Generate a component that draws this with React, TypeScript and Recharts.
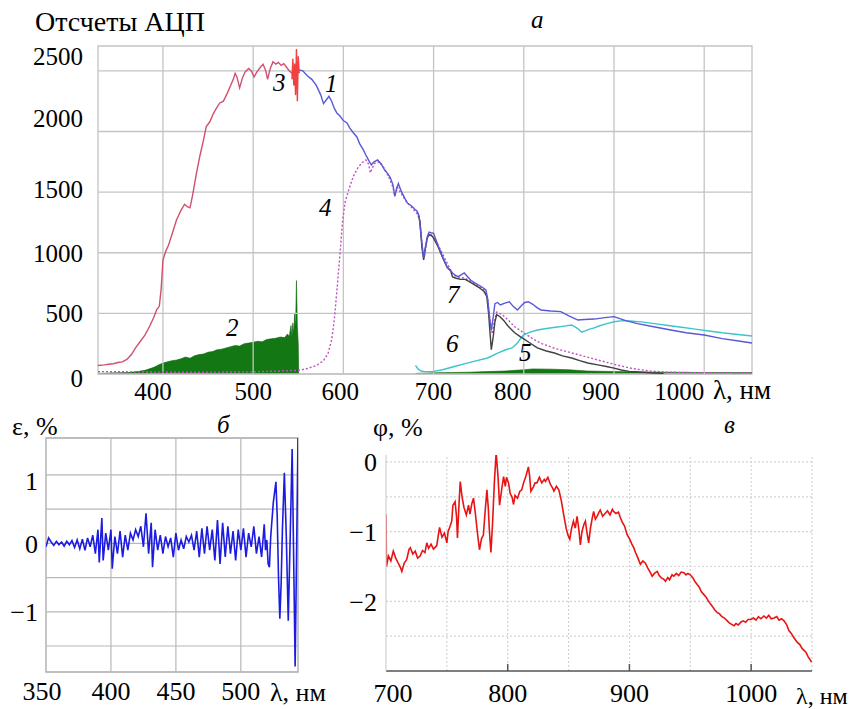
import {
  Area,
  ComposedChart,
  Line,
  LineChart,
  ReferenceArea,
  ReferenceLine,
  XAxis,
  YAxis,
} from "recharts";

type Pt = [number, number];

const SERIF = '"Liberation Serif", "Times New Roman", serif';

// panel a: ADC counts vs wavelength, nm
const topTicksX = [400, 500, 600, 700, 800, 900, 1000];
const topTicksY = [0, 500, 1000, 1500, 2000, 2500];

const curve3: Pt[] = [
  [328, 70], [335, 75], [340, 80], [345, 85], [350, 95], [355, 100], [360, 120], [365, 160],
  [370, 220], [375, 270], [380, 320], [385, 390], [390, 470], [393, 530], [396, 560], [398, 700],
  [400, 940], [403, 1010], [406, 1060], [410, 1150], [415, 1270], [420, 1350], [424, 1400],
  [427, 1380], [430, 1370], [433, 1480], [437, 1650], [441, 1800], [445, 1930], [448, 2040],
  [452, 2080], [456, 2150], [460, 2200], [463, 2235], [467, 2250], [471, 2310], [475, 2380],
  [478, 2430], [480, 2480], [482, 2450], [485, 2360], [488, 2440], [491, 2490], [495, 2520],
  [498, 2500], [501, 2450], [504, 2490], [508, 2530], [511, 2555], [514, 2500], [516, 2430],
  [519, 2520], [522, 2575], [525, 2555], [528, 2570], [531, 2545], [534, 2560], [537, 2530],
  [540, 2500], [543, 2480], [545, 2510],
];

const spike3: Pt[] = [
  [543, 2430], [544, 2600], [545, 2380], [546, 2560], [547, 2300], [548, 2680], [549, 2250],
  [550, 2620], [551, 2480],
];

const curve1: Pt[] = [
  [545, 2500], [550, 2510], [555, 2500], [560, 2460], [565, 2430], [570, 2380], [575, 2300],
  [578, 2230], [581, 2260], [584, 2290], [587, 2250], [590, 2190], [593, 2150], [596, 2130],
  [600, 2090], [604, 2070], [607, 2030], [611, 1990], [615, 1955], [618, 1900], [622, 1850],
  [626, 1790], [629, 1750], [631, 1725], [634, 1750], [638, 1765], [642, 1730], [646, 1680],
  [649, 1655], [652, 1620], [655, 1560], [657, 1465], [659, 1530], [661, 1570], [664, 1510],
  [668, 1450], [671, 1410], [675, 1390], [679, 1360], [682, 1340], [684, 1300], [686, 1150],
  [688, 1020], [689, 960], [691, 1050], [693, 1130], [695, 1170], [697, 1165], [700, 1160],
  [705, 1060], [710, 968], [715, 883], [718, 860], [721, 833], [724, 815], [727, 803],
  [730, 815], [734, 833], [738, 800], [741, 775], [746, 750], [750, 734], [754, 715],
  [758, 693], [760, 620], [762, 470], [764, 360], [766, 460], [768, 580], [771, 590],
  [774, 569], [779, 585], [784, 596], [788, 560], [793, 528], [797, 560], [801, 590],
  [805, 596], [810, 575], [815, 545], [819, 528], [830, 520], [841, 514], [850, 480],
  [860, 445], [867, 450], [878, 453], [890, 465], [900, 473], [913, 440], [926, 415],
  [944, 390], [963, 363], [980, 340], [1000, 322], [1020, 292], [1040, 270], [1053, 255],
];

const curve4: Pt[] = [
  [328, 20], [360, 18], [400, 15], [450, 15], [500, 18], [550, 30], [560, 45], [570, 70],
  [578, 110], [583, 170], [587, 280], [590, 450], [593, 700], [596, 970], [599, 1250],
  [602, 1420], [606, 1520], [611, 1630], [616, 1700], [621, 1745], [625, 1765], [628, 1730],
  [630, 1660], [632, 1700], [635, 1740], [640, 1750], [645, 1700], [650, 1630], [655, 1540],
  [657, 1470], [660, 1540], [664, 1490], [670, 1420], [676, 1370], [682, 1320], [685, 1260],
  [688, 1000], [690, 980], [693, 1120], [696, 1160], [700, 1125], [706, 1050], [712, 960],
  [718, 870], [722, 815], [728, 800], [735, 790], [742, 760], [750, 720], [757, 690],
  [760, 610], [763, 420], [765, 330], [767, 420], [770, 510], [776, 490], [782, 450],
  [790, 390], [800, 340], [810, 290], [820, 250], [835, 210], [850, 180], [865, 150],
  [880, 120], [900, 80], [920, 45], [940, 25], [960, 15], [1000, 10], [1053, 8],
];

const curve7: Pt[] = [
  [683, 1320], [685, 1250], [687, 1050], [689, 940], [691, 1040], [693, 1120], [695, 1150],
  [698, 1140], [700, 1120], [705, 1050], [710, 960], [715, 880], [719, 850], [721, 800],
  [725, 790], [730, 780], [735, 780], [741, 755], [750, 715], [756, 680], [759, 640],
  [761, 500], [763, 300], [764, 200], [766, 300], [768, 430], [770, 490], [774, 470],
  [778, 440], [782, 400], [786, 370], [790, 340], [796, 308], [800, 290], [806, 260],
  [815, 215], [825, 190], [834, 173], [843, 150], [853, 132], [862, 110], [871, 91],
  [882, 75], [893, 60], [900, 48], [908, 33], [917, 22], [927, 17], [940, 10], [955, 5],
];

const curve6: Pt[] = [
  [680, 70], [683, 40], [686, 25], [690, 20], [700, 22], [710, 35], [722, 60], [735, 85],
  [748, 110], [760, 132], [771, 173], [780, 200], [787, 215], [793, 255], [797, 300],
  [800, 322], [807, 345], [815, 363], [825, 375], [835, 385], [845, 395], [853, 404],
  [860, 375], [864, 345], [868, 355], [873, 370], [878, 380], [885, 400], [892, 415],
  [900, 431], [910, 440], [918, 437], [930, 430], [945, 415], [960, 400], [975, 385],
  [990, 370], [1005, 355], [1020, 340], [1035, 328], [1053, 313],
];

const fill2: Pt[] = [
  [328, 5], [340, 8], [360, 12], [370, 18], [380, 30], [390, 55], [395, 75], [400, 90],
  [405, 100], [410, 110], [415, 115], [420, 125], [425, 140], [430, 130], [435, 150],
  [440, 160], [445, 165], [450, 180], [455, 185], [460, 200], [465, 205], [470, 215],
  [475, 225], [480, 235], [485, 230], [490, 250], [495, 255], [500, 262], [505, 270],
  [510, 265], [515, 285], [520, 290], [525, 295], [530, 305], [535, 300], [538, 330],
  [540, 310], [542, 400], [543, 300], [544, 420], [545, 330], [546, 500], [547, 380],
  [548, 770], [549, 400], [550, 250], [550.5, 0],
];

const fill5: Pt[] = [
  [680, 5], [700, 10], [720, 12], [740, 15], [760, 20], [780, 25], [800, 35], [810, 42],
  [830, 40], [850, 35], [870, 25], [900, 20], [950, 15], [1000, 12], [1053, 12],
];

// panel б: relative error ε, %
const epsTicksX = [350, 400, 450, 500];
const epsTicksY = [-1, 0, 1];
const epsGridY = [-1.5, -1, -0.5, 0, 0.5, 1];
const epsilon: Pt[] = [
  [350, -0.05], [352, 0.08], [354, 0.02], [356, -0.03], [358, 0.03], [360, -0.02], [362, 0.02],
  [364, -0.04], [366, 0.03], [368, -0.02], [370, 0.04], [372, -0.06], [374, 0.05], [376, -0.08],
  [378, 0.06], [380, -0.1], [382, 0.08], [384, -0.05], [386, 0.12], [388, -0.15], [390, 0.2],
  [391, -0.28], [393, 0.37], [394, -0.25], [396, 0.15], [398, -0.1], [400, 0.2], [401, -0.37],
  [403, 0.1], [405, -0.15], [407, 0.18], [409, -0.2], [411, 0.12], [413, -0.1], [415, 0.15],
  [417, 0.05], [419, 0.2], [421, 0.1], [423, 0.25], [425, -0.05], [427, 0.44], [429, -0.15],
  [431, 0.3], [432, -0.35], [434, 0.2], [436, -0.1], [438, 0.12], [440, -0.15], [442, 0.1],
  [444, -0.05], [446, 0.08], [448, -0.2], [450, 0.15], [452, -0.1], [454, 0.05], [456, -0.08],
  [458, 0.1], [460, 0.02], [462, 0.12], [464, -0.1], [466, 0.18], [468, -0.2], [470, 0.22],
  [472, -0.15], [474, 0.25], [476, -0.1], [478, 0.2], [480, -0.25], [482, 0.34], [484, -0.3],
  [486, 0.3], [488, -0.2], [490, 0.25], [492, -0.15], [494, 0.18], [496, -0.25], [498, 0.2],
  [500, -0.1], [502, 0.22], [504, -0.2], [506, 0.15], [508, -0.05], [510, 0.25], [512, -0.15],
  [514, 0.1], [516, -0.2], [518, 0.28], [519, -0.1], [520, 0.05], [521, -0.3], [522, -0.35],
  [523, 0.1], [525, 0.6], [527, 0.9], [528, 0.4], [529, -0.5], [530, -1.1], [531, -0.6],
  [532, 0.2], [533.5, 1.03], [535, 0.1], [536.5, -1.13], [538, 0.1], [539.5, 1.38],
  [540.5, 0], [541.8, -1.8], [543, 0], [544, 1.55],
];

// panel в: φ, %
const phiTicksX = [700, 800, 900, 1000];
const phiTicksY = [-2, -1, 0];
const phiGridX = [750, 800, 850, 900, 950, 1000, 1050];
const phiGridY = [-2.5, -2, -1.5, -1, -0.5, 0];
const phi: Pt[] = [
  [700, -0.75], [700.4, -1.5], [702, -1.35], [704, -1.42], [706, -1.28], [708, -1.38],
  [710, -1.45], [712, -1.52], [713, -1.57], [715, -1.45], [717, -1.4], [719, -1.25],
  [720, -1.23], [722, -1.32], [724, -1.28], [726, -1.38], [728, -1.35], [730, -1.27],
  [732, -1.3], [733.5, -1.16], [735, -1.24], [737, -1.18], [739, -1.25], [741.7, -1.2],
  [743, -1.05], [744, -0.94], [746, -1.08], [748, -1.02], [750, -1.16], [751, -1.0],
  [752.7, -0.92], [754, -0.85], [755, -0.62], [756.8, -0.57], [758, -0.8], [758.7, -1.09],
  [760, -0.6], [761, -0.28], [762.5, -0.5], [764, -0.65], [766, -0.76], [767.8, -0.62],
  [769, -0.75], [770.5, -0.6], [771.9, -0.52], [773.5, -0.75], [775, -1.0], [776.8, -1.26],
  [778.5, -1.1], [780, -1.05], [781.5, -0.7], [782.9, -0.4], [784, -0.65], [785, -1.0],
  [786.2, -1.3], [787.5, -0.9], [789, -0.3], [790.5, 0.13], [792, -0.2], [793.3, -0.62],
  [795, -0.4], [796.6, -0.21], [798, -0.35], [799, -0.22], [800.7, -0.3], [802, -0.45],
  [803.5, -0.5], [804.8, -0.61], [806, -0.48], [808, -0.52], [810, -0.42], [811.5, -0.4],
  [813, -0.3], [815, -0.2], [817, -0.07], [818, -0.2], [819, -0.42], [821, -0.36],
  [822.5, -0.3], [824, -0.3], [826, -0.22], [828, -0.3], [830, -0.25], [831, -0.28],
  [833, -0.22], [835, -0.32], [837, -0.38], [838, -0.42], [840, -0.35], [842, -0.4],
  [844, -0.55], [846, -0.76], [848, -0.95], [849.5, -1.05], [851, -1.11], [852.5, -0.95],
  [854, -0.85], [855.5, -0.95], [857, -0.78], [858.5, -0.98], [859.7, -1.19], [861, -1.0],
  [862.5, -0.9], [863.8, -0.85], [865, -1.0], [866.5, -1.16], [868, -0.95], [869.5, -0.8],
  [870.6, -0.71], [872, -0.82], [873.4, -0.78], [875, -0.72], [876, -0.69], [878, -0.78],
  [880, -0.74], [882, -0.7], [884, -0.76], [886, -0.68], [887, -0.71], [889, -0.74],
  [891, -0.72], [892.6, -0.8], [894, -0.86], [896, -0.92], [898, -1.04], [900, -1.1],
  [902, -1.18], [903.5, -1.23], [905, -1.3], [907, -1.38], [909, -1.47], [911, -1.42],
  [913, -1.45], [915, -1.52], [917, -1.58], [918.7, -1.64], [920.5, -1.6], [922.8, -1.57],
  [924.5, -1.63], [926, -1.66], [928, -1.68], [929.6, -1.71], [931.5, -1.66], [933, -1.69],
  [935, -1.62], [936.5, -1.64], [938.5, -1.6], [940.5, -1.63], [942.5, -1.58], [944.7, -1.59],
  [946.5, -1.62], [948, -1.6], [950, -1.62], [952, -1.66], [954, -1.72], [955.7, -1.76],
  [957.5, -1.8], [959, -1.86], [961, -1.9], [963, -1.94], [965, -2.0], [966.7, -2.04],
  [968.5, -2.08], [970, -2.12], [972, -2.16], [974, -2.18], [976, -2.22], [978, -2.24],
  [980.4, -2.28], [982, -2.31], [984, -2.33], [985.9, -2.35], [987.5, -2.32], [989.5, -2.34],
  [991.4, -2.3], [993.5, -2.28], [995.5, -2.3], [997.5, -2.26], [999.6, -2.26], [1002, -2.24],
  [1004, -2.27], [1006, -2.22], [1008, -2.25], [1010.5, -2.21], [1012.5, -2.24], [1014.5, -2.2],
  [1016.5, -2.25], [1018.8, -2.24], [1021, -2.22], [1023, -2.27], [1025, -2.25], [1027, -2.28],
  [1029, -2.33], [1031, -2.42], [1033, -2.46], [1035, -2.52], [1038, -2.59], [1040, -2.62],
  [1042, -2.68], [1045, -2.73], [1047, -2.8], [1049.6, -2.87],
];

function buildRows(series: Record<string, Pt[]>) {
  const map = new Map<number, Record<string, number>>();
  for (const [key, pts] of Object.entries(series)) {
    for (const [x, y] of pts) {
      const row = map.get(x) ?? { x };
      row[key] = y;
      map.set(x, row);
    }
  }
  return [...map.values()].sort((a, b) => a.x - b.x);
}

const topRows = buildRows({
  fill2, fill5, curve1, curve3, spike3, curve4, curve6, curve7,
});
const epsRows = buildRows({ epsilon });
const phiRows = buildRows({ phi });

const fmt = (v: number) => (v < 0 ? "\u2212" + Math.abs(v) : String(v));

function makeXTick(size: number, nudge: Record<number, number> = {}) {
  return (p: any) => (
    <text
      x={p.x + (nudge[p.payload.value] ?? 0)}
      y={p.y}
      dy="0.71em"
      textAnchor="middle"
      fontSize={size}
      fontFamily={SERIF}
      fill="#000"
    >
      {fmt(p.payload.value)}
    </text>
  );
}

function makeYTick(size: number, nudge: Record<number, number> = {}) {
  return (p: any) => (
    <text
      x={p.x}
      y={p.y + (nudge[p.payload.value] ?? 0)}
      dy="0.355em"
      textAnchor="end"
      fontSize={size}
      fontFamily={SERIF}
      fill="#000"
    >
      {fmt(p.payload.value)}
    </text>
  );
}

function Txt({ x, cy, size, italic, children }: any) {
  return (
    <div
      style={{
        position: "absolute",
        left: x,
        top: cy - size * 0.62,
        fontSize: size,
        lineHeight: `${size * 1.2}px`,
        fontFamily: SERIF,
        fontStyle: italic ? "italic" : "normal",
        whiteSpace: "nowrap",
        color: "#000",
      }}
    >
      {children}
    </div>
  );
}

const GRID = "#c4c4c4";

export default function App() {
  return (
    <div style={{ position: "absolute", left: 0, top: 0, width: 858, height: 709, background: "#fff", overflow: "hidden" }}>
      <div style={{ position: "absolute", left: 0, top: 0 }}>
        <ComposedChart
          width={858}
          height={410}
          data={topRows}
          margin={{ top: 46, right: 106, bottom: 6, left: 28 }}
        >
          <XAxis
            dataKey="x"
            type="number"
            domain={[328, 1053]}
            ticks={topTicksX}
            allowDataOverflow
            axisLine={false}
            tickLine={false}
            tickSize={0}
            tickMargin={8}
            height={30}
            tick={makeXTick(25, { 400: -10, 600: -3, 800: -11, 900: -13, 1000: -25 })}
          />
          <YAxis
            type="number"
            domain={[0, 2705]}
            ticks={topTicksY}
            allowDataOverflow
            axisLine={false}
            tickLine={false}
            tickSize={0}
            tickMargin={15}
            width={70}
            tick={makeYTick(25, { 2500: -15, 2000: -13, 1500: -3, 0: 4 })}
          />
          {topTicksX.map((v) => (
            <ReferenceLine key={"gx" + v} x={v} stroke={GRID} strokeWidth={1.3} />
          ))}
          {topTicksY.map((v) => (
            <ReferenceLine key={"gy" + v} y={v} stroke={GRID} strokeWidth={1.3} />
          ))}
          <ReferenceArea x1={328} x2={1053} y1={0} y2={2705} fill="none" stroke={GRID} strokeWidth={1.3} />
          <Area dataKey="fill2" type="linear" stroke="#0e640e" strokeWidth={0.6} fill="#137813" fillOpacity={1} connectNulls isAnimationActive={false} />
          <Area dataKey="fill5" type="linear" stroke="#0e640e" strokeWidth={0.6} fill="#137813" fillOpacity={1} connectNulls isAnimationActive={false} />
          <Line dataKey="curve4" type="linear" stroke="#c050c0" strokeWidth={1.4} strokeDasharray="2 2" dot={false} connectNulls isAnimationActive={false} />
          <Line dataKey="curve6" type="linear" stroke="#3cc4cc" strokeWidth={1.4} dot={false} connectNulls isAnimationActive={false} />
          <Line dataKey="curve7" type="linear" stroke="#404040" strokeWidth={1.4} dot={false} connectNulls isAnimationActive={false} />
          <Line dataKey="curve1" type="linear" stroke="#5858d8" strokeWidth={1.4} dot={false} connectNulls isAnimationActive={false} />
          <Line dataKey="curve3" type="linear" stroke="#d0506e" strokeWidth={1.4} dot={false} connectNulls isAnimationActive={false} />
          <Line dataKey="spike3" type="linear" stroke="#f04040" strokeWidth={1.4} dot={false} connectNulls isAnimationActive={false} />
        </ComposedChart>
      </div>

      <div style={{ position: "absolute", left: 0, top: 400 }}>
        <LineChart
          width={340}
          height={309}
          data={epsRows}
          margin={{ top: 38, right: 42, bottom: 7, left: 6 }}
        >
          <XAxis
            dataKey="x"
            type="number"
            domain={[350, 544]}
            ticks={epsTicksX}
            allowDataOverflow
            axisLine={false}
            tickLine={false}
            tickSize={0}
            tickMargin={10}
            height={30}
            tick={makeXTick(26, { 350: -4 })}
          />
          <YAxis
            type="number"
            domain={[-1.88, 1.54]}
            ticks={epsTicksY}
            allowDataOverflow
            axisLine={false}
            tickLine={false}
            tickSize={0}
            tickMargin={8}
            width={40}
            tick={makeYTick(26, { 1: 6 })}
          />
          {[400, 450, 500].map((v) => (
            <ReferenceLine key={"ex" + v} x={v} stroke="#b8b8b8" strokeWidth={1.2} />
          ))}
          {epsGridY.map((v) => (
            <ReferenceLine key={"ey" + v} y={v} stroke="#b8b8b8" strokeWidth={1.2} />
          ))}
          <ReferenceArea x1={350} x2={544} y1={-1.88} y2={1.54} fill="none" stroke="#a8a8a8" strokeWidth={1.3} />
          <Line dataKey="epsilon" type="linear" stroke="#1c1ce0" strokeWidth={1.6} dot={false} connectNulls isAnimationActive={false} />
        </LineChart>
      </div>

      <div style={{ position: "absolute", left: 340, top: 400 }}>
        <LineChart
          width={518}
          height={309}
          data={phiRows}
          margin={{ top: 55, right: 46, bottom: 8, left: 6 }}
        >
          <XAxis
            dataKey="x"
            type="number"
            domain={[700, 1050]}
            ticks={phiTicksX}
            allowDataOverflow
            axisLine={{ stroke: "#555", strokeWidth: 1.5 }}
            tickLine={false}
            tickSize={0}
            tickMargin={13}
            height={30}
            tick={makeXTick(26, { 700: 7 })}
          />
          <YAxis
            type="number"
            domain={[-3, 0.1]}
            ticks={phiTicksY}
            allowDataOverflow
            axisLine={{ stroke: "#d0d0d0", strokeWidth: 1.2 }}
            tickLine={false}
            tickSize={0}
            tickMargin={9}
            width={40}
            tick={makeYTick(26)}
          />
          {phiGridX.map((v) => (
            <ReferenceLine key={"px" + v} x={v} stroke="#d4d4d4" strokeWidth={1.2} strokeDasharray="2 2" />
          ))}
          {phiGridY.map((v) => (
            <ReferenceLine key={"py" + v} y={v} stroke="#d4d4d4" strokeWidth={1.2} strokeDasharray="2 2" />
          ))}
          {[800, 900, 1000].map((v) => (
            <ReferenceLine key={"pt" + v} segment={[{ x: v, y: -3 }, { x: v, y: -2.9 }]} stroke="#555" strokeWidth={1.5} />
          ))}
          <Line dataKey="phi" type="linear" stroke="#e81414" strokeWidth={1.6} dot={false} connectNulls isAnimationActive={false} />
        </LineChart>
      </div>

      <Txt x={35} cy={22} size={28}>Отсчеты АЦП</Txt>
      <Txt x={531} cy={20} size={25} italic>а</Txt>
      <Txt x={713} cy={391} size={27}>λ, нм</Txt>
      <Txt x={273} cy={83} size={25} italic>3</Txt>
      <Txt x={325} cy={84} size={25} italic>1</Txt>
      <Txt x={319} cy={208} size={25} italic>4</Txt>
      <Txt x={226} cy={328} size={25} italic>2</Txt>
      <Txt x={447} cy={295} size={25} italic>7</Txt>
      <Txt x={446} cy={344} size={25} italic>6</Txt>
      <Txt x={519} cy={353} size={25} italic>5</Txt>

      <Txt x={12} cy={427} size={26}>ε, %</Txt>
      <Txt x={217} cy={425} size={25} italic>б</Txt>
      <Txt x={270} cy={693} size={26}>λ, нм</Txt>

      <Txt x={373} cy={428} size={26}>φ, %</Txt>
      <Txt x={724} cy={425} size={25} italic>в</Txt>
      <Txt x={796} cy={697} size={24}>λ, нм</Txt>
    </div>
  );
}
